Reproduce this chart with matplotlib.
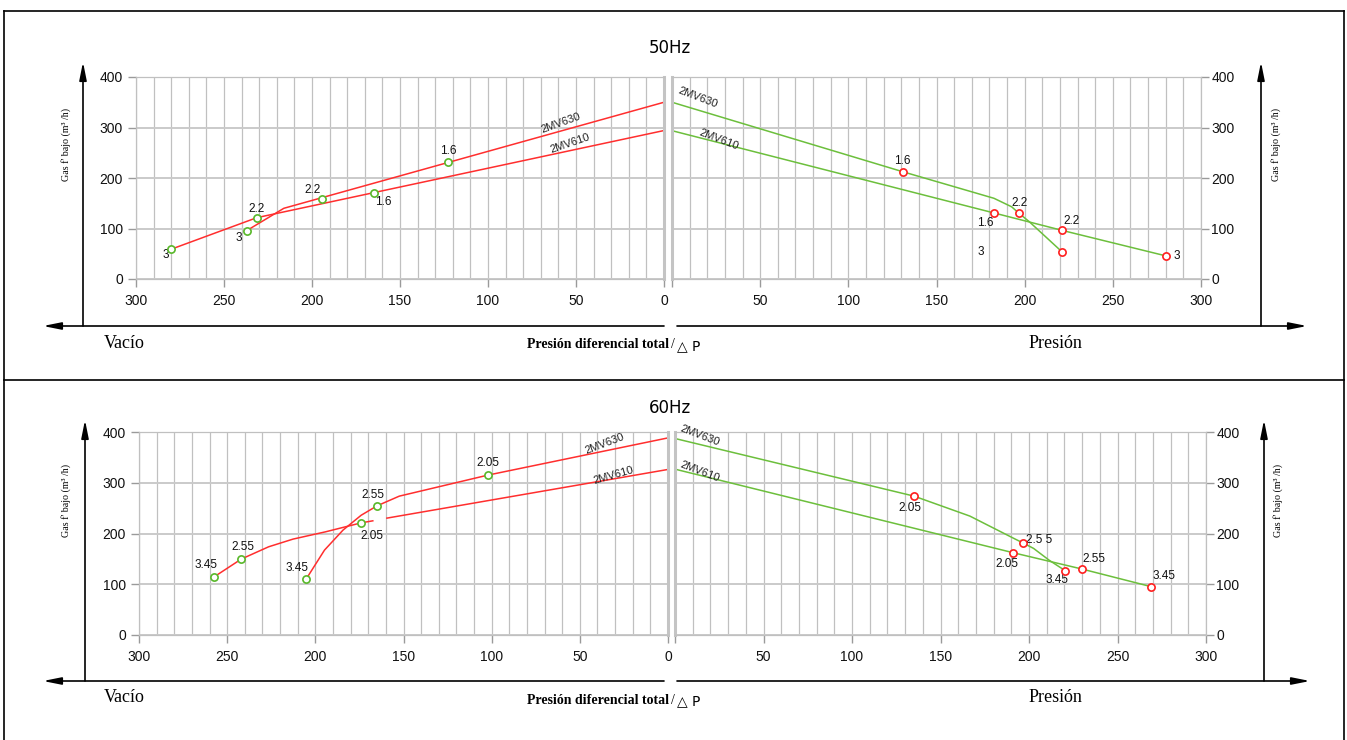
import matplotlib
matplotlib.use("Agg")
import matplotlib.pyplot as plt
from matplotlib.ticker import MultipleLocator

plt.rcParams['font.family'] = ['Liberation Sans', 'DejaVu Sans']

W, H = 1347, 740

# ---- data (x = presión diferencial, y = gas flow m3/h) ----
# 50 Hz, vacuum side
vac50_630_x = [237, 216, 0]
vac50_630_y = [96, 140, 350]
vac50_610_x = [280, 231.4, 0]
vac50_610_y = [59, 121.4, 294]
vac50_pt_x = [279.9, 237, 231.4, 194.5, 164.8, 122.6]
vac50_pt_y = [58.8, 95.6, 121.4, 158.4, 170.9, 231]
vac50_pt_lab = ['3', '3', '2.2', '2.2', '1.6', '1.6']

# 50 Hz, pressure side
pre50_630_x = [0, 130.8, 182.6, 192.6, 196.6, 202.6, 221.1]
pre50_630_y = [350, 212.5, 159.8, 143, 130.7, 113.5, 54]
pre50_610_x = [0, 182.7, 221.1, 280.4]
pre50_610_y = [293.7, 130.7, 96.4, 45.5]
pre50_pt_x = [130.8, 182.7, 196.6, 221.1, 221.1, 280.4]
pre50_pt_y = [212.5, 130.7, 130.7, 96.4, 54, 45.5]
pre50_pt_lab = ['1.6', '1.6', '2.2', '2.2', '3', '3']

# 60 Hz, vacuum side
vac60_630_x = [205.2, 194.8, 184.3, 174, 165, 152.4, 102.2, 0]
vac60_630_y = [110.2, 167.3, 206.7, 236, 254.5, 273.6, 315, 388.4]
vac60_610a_x = [257.3, 242, 226.5, 212.6, 194.1, 174, 167.4]
vac60_610a_y = [114.8, 149.6, 173.8, 189, 203.4, 221, 225]
vac60_610b_x = [159.4, 0]
vac60_610b_y = [230.3, 326.2]
vac60_pt_x = [257.3, 242, 205.2, 165, 174, 102.2]
vac60_pt_y = [114.8, 149.6, 110.2, 254.5, 221, 315]
vac60_pt_lab = ['3.45', '2.55', '3.45', '2.55', '2.05', '2.05']

# 60 Hz, pressure side
pre60_630_x = [0, 135.1, 166.6, 192.2, 196.4, 202.6, 211.3, 220.5]
pre60_630_y = [387.2, 273.6, 234.3, 189, 181.8, 170.6, 147.6, 126.6]
pre60_610_x = [0, 191.2, 229.9, 269.2]
pre60_610_y = [326.8, 162, 130, 95.1]
pre60_pt_x = [135.1, 196.4, 191.2, 220.5, 229.9, 269.2]
pre60_pt_y = [273.6, 181.8, 162, 126.6, 130, 95.1]
pre60_pt_lab = ['2.05', '2.5 5', '2.05', '3.45', '2.55', '3.45']

x_ticks = [0, 50, 100, 150, 200, 250, 300]
y_ticks = [0, 100, 200, 300, 400]
ylabel = "Gas f' bajo (m³ /h)"

RED = '#ff2e2e'
GREEN = '#6cbf3c'
MK_GREEN = '#58b82a'
MK_RED = '#ff1f1f'

fig = plt.figure(figsize=(W / 100, H / 100), dpi=100)

# background layer in pixel coordinates for frame, arrows and captions
bg = fig.add_axes([0, 0, 1, 1])
bg.set_xlim(0, W)
bg.set_ylim(H, 0)
bg.axis('off')


def px_axes(x0, y0, x1, y1):
    return fig.add_axes([x0 / W, 1 - y1 / H, (x1 - x0) / W, (y1 - y0) / H])


def setup(ax, side):
    ax.set_xlim((300, 0) if side == 'L' else (0, 300))
    ax.set_ylim(0, 400)
    ax.set_xticks(x_ticks)
    # the shared 0 is printed only once, under the vacuum side
    ax.set_xticklabels([str(t) if (t or side == 'L') else '' for t in x_ticks])
    ax.set_yticks(y_ticks)
    ax.xaxis.set_minor_locator(MultipleLocator(10))
    ax.grid(which='both', axis='x', color='#c0c0c0', lw=0.9)
    ax.grid(which='major', axis='y', color='#cacaca', lw=1.4)
    ax.set_axisbelow(True)
    ax.patch.set_alpha(0)
    ax.tick_params(which='minor', length=0)
    ax.tick_params(which='major', direction='out', length=6, width=1,
                   color='#9a9a9a', labelsize=10, labelcolor='#111')
    ax.tick_params(axis='x', pad=4.5)
    for s in ax.spines.values():
        s.set_color('#c0c0c0')
        s.set_linewidth(0.9)
    if side == 'L':
        ax.tick_params(axis='y', pad=3.5)
        ax.spines['right'].set_linewidth(2.2)
        ax.spines['right'].set_color('#c4c4c4')
    else:
        ax.yaxis.tick_right()
        ax.tick_params(axis='y', pad=1.5)
        ax.spines['left'].set_linewidth(2.2)
        ax.spines['left'].set_color('#c4c4c4')


def points(ax, xs, ys, labs, offs, mcol):
    ax.plot(xs, ys, 'o', ms=5.2, mfc='white', mec=mcol, mew=1.2, zorder=5)
    for x, y, t, (dx, dy) in zip(xs, ys, labs, offs):
        ax.annotate(t, (x, y), xytext=(dx, dy), textcoords='offset pixels',
                    ha='center', va='center', fontsize=8.5, color='#111')


def curve_label(ax, x, y, txt, rot):
    ax.text(x, y, txt, rotation=rot, rotation_mode='anchor', ha='center',
            va='center', fontsize=8, color='#222')


# ---------------- 50 Hz ----------------
ax1 = px_axes(136, 77, 664, 279)
setup(ax1, 'L')
ax1.plot(vac50_630_x, vac50_630_y, color=RED, lw=1.1)
ax1.plot(vac50_610_x, vac50_610_y, color=RED, lw=1.1)
points(ax1, vac50_pt_x, vac50_pt_y, vac50_pt_lab,
       [(-6, -6), (-8, -7), (0, 9), (-9, 9), (9, -9), (0, 11)], MK_GREEN)
curve_label(ax1, 58.4, 309.5, '2MV630', 20)
curve_label(ax1, 53.5, 268.7, '2MV610', 19)

ax2 = px_axes(672, 77, 1201, 279)
setup(ax2, 'R')
ax2.plot(pre50_630_x, pre50_630_y, color=GREEN, lw=1.1)
ax2.plot(pre50_610_x, pre50_610_y, color=GREEN, lw=1.1)
points(ax2, pre50_pt_x, pre50_pt_y, pre50_pt_lab,
       [(0, 11), (-9, -10), (1, 10), (10, 9), (-81, 0), (10, 0)], MK_RED)
curve_label(ax2, 14.4, 359.8, '2MV630', -21)
curve_label(ax2, 26.8, 276.6, '2MV610', -21)

# ---------------- 60 Hz ----------------
ax3 = px_axes(139, 432, 668, 635)
setup(ax3, 'L')
ax3.plot(vac60_630_x, vac60_630_y, color=RED, lw=1.1)
ax3.plot(vac60_610a_x, vac60_610a_y, color=RED, lw=1.1)
ax3.plot(vac60_610b_x, vac60_610b_y, color=RED, lw=1.1)
points(ax3, vac60_pt_x, vac60_pt_y, vac60_pt_lab,
       [(-8, 12), (2, 12), (-9, 11), (-4, 11), (11, -13), (0, 12)], MK_GREEN)
curve_label(ax3, 36, 377.3, '2MV630', 21)
curve_label(ax3, 30.9, 315, '2MV610', 16)

ax4 = px_axes(675, 432, 1206, 635)
setup(ax4, 'R')
ax4.plot(pre60_630_x, pre60_630_y, color=GREEN, lw=1.1)
ax4.plot(pre60_610_x, pre60_610_y, color=GREEN, lw=1.1)
points(ax4, pre60_pt_x, pre60_pt_y, pre60_pt_lab,
       [(-4, -12), (16, 3), (-6, -11), (-8, -9), (12, 10), (13, 11)], MK_RED)
curve_label(ax4, 13.9, 392, '2MV630', -21)
curve_label(ax4, 14.3, 321, '2MV610', -21)

# ---------------- frame, arrows, captions ----------------
for xs, ys in [([3.5, 1344], [11, 11]), ([4, 4], [11, 740]),
               ([1344, 1344], [11, 740]), ([4, 1344], [380, 380])]:
    bg.plot(xs, ys, color='black', lw=1.2)

arrow = dict(arrowstyle='-|>,head_length=0.9,head_width=0.18', color='black',
             lw=1.2, shrinkA=0, shrinkB=0, mutation_scale=12)
for y, xl, xr, xr_end, yt in [(326, 83, 1261, 1307, 62), (681, 85, 1264, 1310, 420)]:
    bg.annotate('', xy=(43, y), xytext=(664, y), arrowprops=arrow)
    bg.annotate('', xy=(xr_end, y), xytext=(677, y), arrowprops=arrow)
    bg.annotate('', xy=(xl, yt), xytext=(xl, y), arrowprops=arrow)
    bg.annotate('', xy=(xr, yt), xytext=(xr, y), arrowprops=arrow)

for y_mid, xr in [(144, 1276), (500, 1278)]:
    bg.text(66, y_mid, ylabel, rotation=90, ha='center', va='center',
            family='Liberation Serif', fontsize=7.2)
    bg.text(xr, y_mid, ylabel, rotation=90, ha='center', va='center',
            family='Liberation Serif', fontsize=7.2)

for y, title, yt in [(345, '50Hz', 48), (700, '60Hz', 408)]:
    bg.text(670, yt, title, ha='center', va='center', family='DejaVu Sans',
            fontsize=12)
    bg.text(124, y - 2, 'Vacío', ha='center', va='center',
            family='Liberation Serif', fontsize=13)
    bg.text(1055, y - 2, 'Presión', ha='center', va='center',
            family='Liberation Serif', fontsize=13)
    bg.text(669, y, 'Presión diferencial total', ha='right', va='center',
            family='Liberation Serif', fontweight='bold', fontsize=10)
    bg.text(671, y, '/', ha='left', va='center', family='Liberation Serif',
            fontsize=10)
    bg.text(677, y + 1, '△ P', ha='left', va='center', family='DejaVu Sans',
            fontsize=10)

fig.savefig('out.png', dpi=100)
